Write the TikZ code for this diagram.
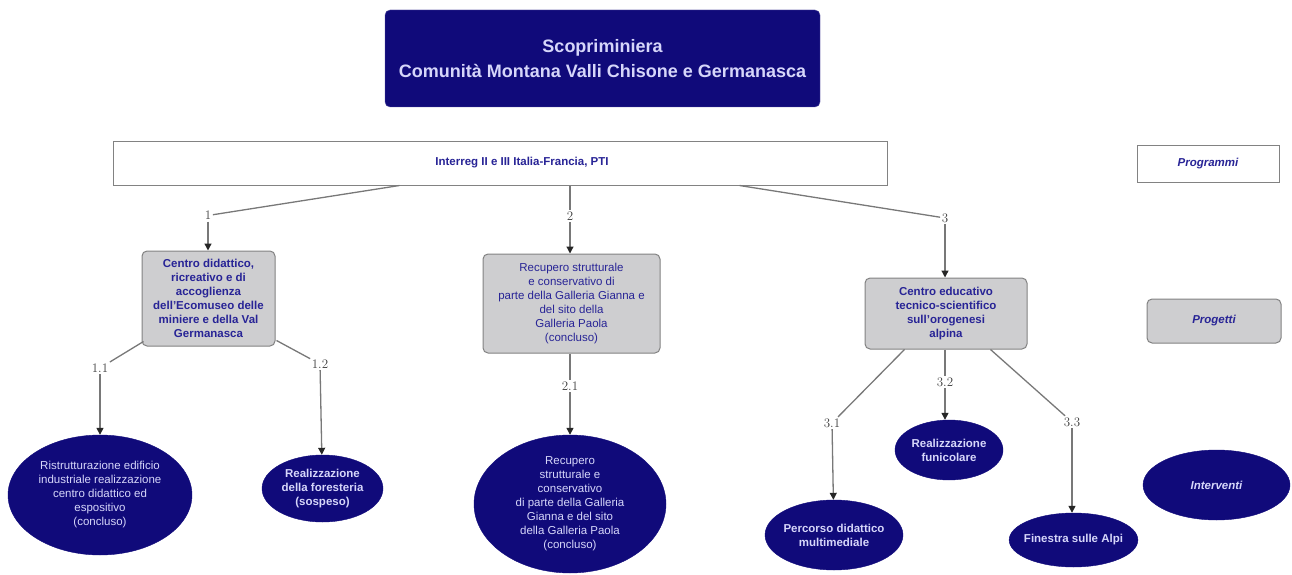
\documentclass[tikz,border=0pt]{standalone}
\usepackage{fontspec}
\setsansfont{Liberation Sans}
\usetikzlibrary{shapes.geometric,arrows.meta,calc}
\definecolor{navy}{RGB}{16,10,122}
\definecolor{navytxt}{RGB}{40,36,150}
\definecolor{lighttxt}{RGB}{214,214,250}
\definecolor{boxgray}{RGB}{206,206,208}
\definecolor{bordergray}{RGB}{130,130,130}
\definecolor{linegray}{RGB}{120,120,120}
\begin{document}
\begin{tikzpicture}[x=1pt,y=-1pt,
  titlebox/.style={draw=navy!70!white,fill=navy,rounded corners=5pt,text=lighttxt,font=\sffamily\bfseries\fontsize{18}{25}\selectfont,align=center,inner sep=0pt},
  progbox/.style={draw=bordergray,line width=1pt,fill=white,text=navytxt,font=\sffamily\bfseries\fontsize{11.5}{14}\selectfont,align=center,inner sep=0pt},
  projbox/.style={draw=bordergray,line width=1pt,fill=boxgray,rounded corners=5pt,text=navytxt,font=\sffamily\fontsize{11.5}{14}\selectfont,align=center,inner sep=0pt},
  ell/.style={ellipse,fill=navy,draw=navy,text=lighttxt,font=\sffamily\fontsize{11.5}{14}\selectfont,align=center,inner sep=-4pt},
  bf/.style={font=\sffamily\bfseries\fontsize{11.5}{14}\selectfont},
  bfit/.style={font=\sffamily\bfseries\itshape\fontsize{11.5}{14}\selectfont},
  lab/.style={font=\rmfamily\fontsize{13}{14}\selectfont,text=black!75,inner sep=1.5pt},
  conn/.style={draw=linegray,line width=1.3pt},
  arr/.style={draw=linegray,line width=1.3pt,-{Triangle[length=7pt,width=7pt,fill=black!85,color=black!85]}}
]
\useasboundingbox (0,0) rectangle (1292,575);

% Title
\node[titlebox,minimum width=435pt,minimum height=97pt] (title) at (602.5,58.5)
  {Scopriminiera\\Comunità Montana Valli Chisone e Germanasca};

% Programs
\node[progbox,minimum width=774pt,minimum height=44pt] (prog) at (500,163)
  {\hspace*{44pt}Interreg II e III Italia-Francia, PTI};
\node[progbox,bfit,minimum width=142pt,minimum height=37pt] (programmi) at (1208,163.5) {Programmi};

% Projects
\node[projbox,bf,minimum width=133pt,minimum height=95pt] (p1) at (208.5,298.5)
  {Centro didattico,\\ricreativo e di\\accoglienza\\dell'Ecomuseo delle\\miniere e della Val\\Germanasca};
\node[projbox,minimum width=177pt,minimum height=99pt] (p2) at (571.5,303.5)
  {Recupero strutturale\\e conservativo di\\parte della Galleria Gianna e\\del sito della\\Galleria Paola\\(concluso)};
\node[projbox,bf,minimum width=162pt,minimum height=71pt] (p3) at (946,313.5)
  {Centro educativo\\tecnico-scientifico\\sull'orogenesi\\alpina};
\node[projbox,bfit,minimum width=134pt,minimum height=44pt] (progetti) at (1214,321) {Progetti};

% Interventions
\node[ell,minimum width=184pt,minimum height=120pt] (e11) at (100,495)
  {Ristrutturazione edificio\\industriale realizzazione\\centro didattico ed\\espositivo\\(concluso)};
\node[ell,bf,minimum width=121pt,minimum height=67pt] (e12) at (322.5,488.5)
  {Realizzazione\\della foresteria\\(sospeso)};
\node[ell,minimum width=192pt,minimum height=138pt] (e21) at (570,504)
  {Recupero\\strutturale e\\conservativo\\di parte della Galleria\\Gianna e del sito\\della Galleria Paola\\(concluso)};
\node[ell,bf,minimum width=108pt,minimum height=60pt] (e32) at (949,450)
  {Realizzazione\\funicolare};
\node[ell,bf,minimum width=138pt,minimum height=70pt] (e31) at (834,535)
  {Percorso didattico\\multimediale};
\node[ell,bf,minimum width=127pt,minimum height=54pt] (e33) at (1073.5,540)
  {Finestra sulle Alpi};
\node[ell,bfit,minimum width=147pt,minimum height=70pt] (interventi) at (1216.5,485)
  {Interventi};

% Labels
\node[lab] (l1) at (208,215.5) {1};
\node[lab] (l2) at (570,216) {2};
\node[lab] (l3) at (945,218) {3};
\node[lab] (l11) at (100,368) {1.1};
\node[lab] (l12) at (320,364) {1.2};
\node[lab] (l21) at (570,386) {2.1};
\node[lab] (l31) at (832,423) {3.1};
\node[lab] (l32) at (945,382) {3.2};
\node[lab] (l33) at (1072,422) {3.3};

% Connectors
\draw[conn] ($(prog.south west)+(287,0)$) -- (l1);
\draw[arr] (l1) -- (p1.north -| l1);
\draw[conn] (prog.south -| l2) -- (l2);
\draw[arr] (l2) -- (p2.north -| l2);
\draw[conn] ($(prog.south west)+(627,0)$) -- (l3);
\draw[arr] (l3) -- (p3.north -| l3);

\draw[conn] ($(p1.south west)+(2,-5)$) -- (l11);
\draw[arr] (l11) -- (e11.north -| l11);
\draw[conn] ($(p1.south east)+(1,-6)$) -- (l12);
\draw[arr] (l12) -- (e12);
\draw[conn] (p2.south -| l21) -- (l21);
\draw[arr] (l21) -- (e21);

\draw[conn] ($(p3.south west)+(40,0)$) -- (l31);
\draw[arr] (l31) -- (e31);
\draw[conn] (p3.south -| l32) -- (l32);
\draw[arr] (l32) -- (e32.north -| l32);
\draw[conn] ($(p3.south east)+(-37,0)$) -- (l33);
\draw[arr] (l33) -- (e33.north -| l33);
\end{tikzpicture}
\end{document}
